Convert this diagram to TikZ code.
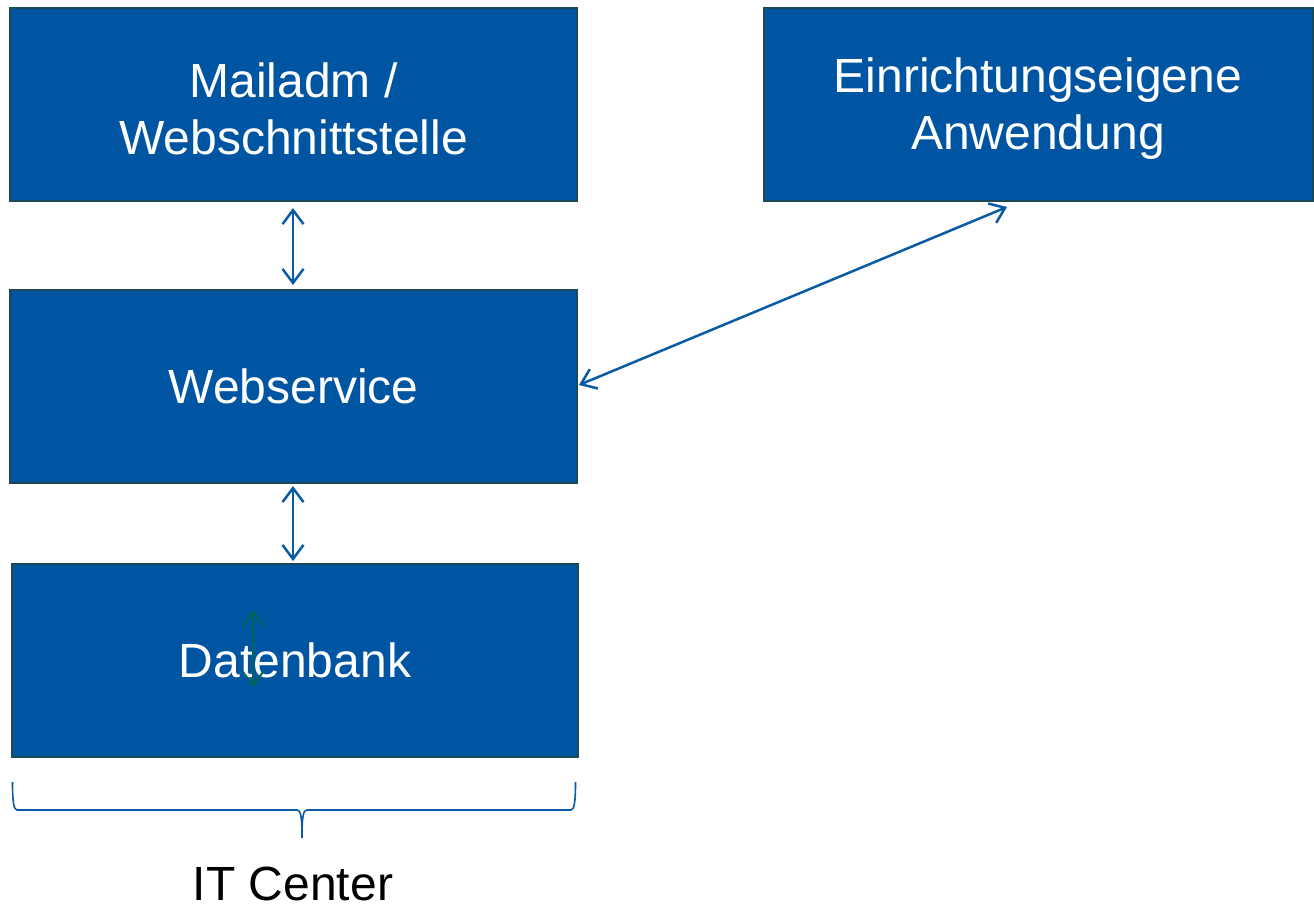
\documentclass[tikz,border=0pt]{standalone}
\usepackage{fontspec}
\setmainfont{Liberation Sans}
\usetikzlibrary{arrows.meta}
\definecolor{boxfill}{HTML}{0055A2}
\definecolor{boxline}{HTML}{1A4A55}
\definecolor{arrblue}{HTML}{0A5AA6}
\definecolor{arrgreen}{HTML}{006655}
\tikzset{
  box/.style={draw=boxline, line width=2pt, fill=boxfill, inner sep=0pt, minimum height=193pt},
  boxtext/.style={text=white, align=center, font=\fontsize{48}{57}\selectfont, inner sep=0pt},
  dbl/.style={draw=arrblue, line width=2.5pt, {Straight Barb[length=14pt,width=21pt]}-{Straight Barb[length=14pt,width=21pt]}},
}
\begin{document}
\begin{tikzpicture}[x=1pt,y=-1pt]
\useasboundingbox (0,0) rectangle (1314,906);
\node[box, minimum width=567pt] (mail) at (293.5,104.5) {};
\node[boxtext, yshift=-4pt] (mailt) at (mail.center) {Mailadm /\\Webschnittstelle};
\node[box, minimum width=549pt] (ein) at (1038,104.5) {};
\node[boxtext, yshift=-4pt] (eint) at (ein.center) {Einrichtungseigene\\Anwendung};
\node[box, minimum width=567pt] (web) at (293.5,386.5) {};
\node[boxtext] (webt) at (web.center) {Webservice};
\node[box, minimum width=566pt] (db) at (295,660.5) {};
\node[boxtext] (dbt) at (db.center) {Datenbank};
\coordinate (a1) at (293,208);
\coordinate (a2) at (293,285);
\coordinate (b1) at (293,486);
\coordinate (b2) at (293,561);
\coordinate (c1) at (579,385);
\coordinate (c2) at (1007,207);
\coordinate (g1) at (253,610);
\coordinate (g2) at (253,687);
\draw[dbl] (a1) -- (a2);
\draw[dbl] (b1) -- (b2);
\draw[dbl] (c1) -- (c2);
\draw[dbl, draw=arrgreen, line width=2pt] (g1) -- (g2);
\coordinate (brl) at (12.5,782);
\coordinate (brr) at (575.5,782);
\coordinate (brm) at (302,838);
\draw[arrblue, line width=1.6pt]
  (brl) .. controls (12.5,800) and (13.5,810) .. (17,810) -- (297,810)
  .. controls (300.5,810) and (302,815) .. (brm)
  .. controls (302,815) and (303.5,810) .. (307,810) -- (571,810)
  .. controls (574.5,810) and (575.5,800) .. (brr);
\node[font=\fontsize{48}{57}\selectfont, text=black, anchor=base, inner sep=0pt] (it) at (293,900) {IT Center};
\end{tikzpicture}
\end{document}
